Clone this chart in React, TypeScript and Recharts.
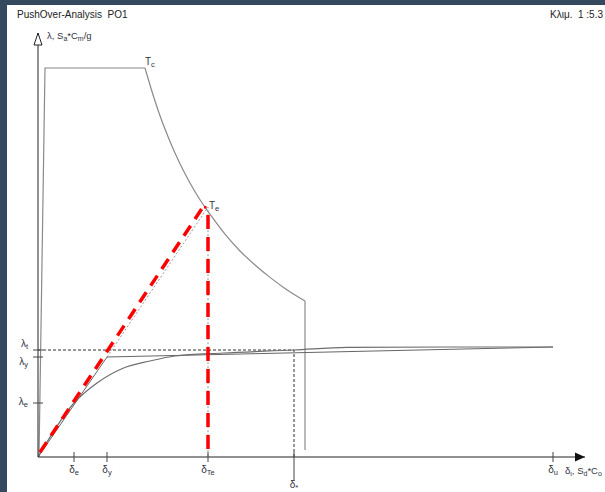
import React from 'react';
import { ComposedChart, Line, XAxis, YAxis, ReferenceDot } from 'recharts';

// Demand spectrum (ADRS): rising part + plateau
const spectrumPlateau = [{ x: 0.01, y: 0 }, { x: 0.07, y: 0.9725 }, { x: 1.07, y: 0.9725 }];
// descending branch
const spectrumDecay = [
  { x: 1.07, y: 0.9725 }, { x: 1.12, y: 0.93 }, { x: 1.17, y: 0.89 },
  { x: 1.22, y: 0.853 }, { x: 1.32, y: 0.789 }, { x: 1.42, y: 0.733 },
  { x: 1.52, y: 0.685 }, { x: 1.62, y: 0.643 }, { x: 1.72, y: 0.607 },
  { x: 1.87, y: 0.557 }, { x: 2.02, y: 0.515 }, { x: 2.17, y: 0.48 },
  { x: 2.32, y: 0.449 }, { x: 2.47, y: 0.4215 }, { x: 2.67, y: 0.39 },
];
// vertical cut-off
const spectrumDrop = [{ x: 2.67, y: 0.39 }, { x: 2.67, y: 0.0175 }];
// Pushover capacity curve
const capacity = [
  { x: 0, y: 0 }, { x: 0.36, y: 0.135 }, { x: 0.59, y: 0.185 },
  { x: 0.85, y: 0.222 }, { x: 1.12, y: 0.24 }, { x: 1.37, y: 0.2525 },
  { x: 1.85, y: 0.26 }, { x: 2.56, y: 0.2675 }, { x: 3.09, y: 0.274 },
  { x: 4.12, y: 0.275 }, { x: 5.15, y: 0.275 },
];
// Bilinear idealisation
const bilinear = [{ x: 0, y: 0 }, { x: 0.69, y: 0.25 }, { x: 5.15, y: 0.275 }];
// Elastic extension to the spectrum (dotted grey)
const elasticExt = [{ x: 0.69, y: 0.25 }, { x: 1.70, y: 0.625 }, { x: 1.70, y: 0 }];
// Target displacement construction (black dashed)
const targetLine = [{ x: 0, y: 0.2675 }, { x: 2.56, y: 0.2675 }, { x: 2.56, y: 0 }];
// Red dashed construction
const redDiag = [{ x: 0.02, y: 0.012 }, { x: 1.65, y: 0.625 }];
const redVert = [{ x: 1.70, y: 0.605 }, { x: 1.70, y: 0 }];

const xTicks = [0.36, 0.69, 1.70, 2.56, 5.15];
const xTickLabels = ['δe', 'δy', 'δTe', 'δ*', 'δu'];
const yTicks = [0.135, 0.25, 0.2675];
const yTickLabels = ['λe', 'λy', 'λt'];
const xMax = 5.47;
const yMax = 1.06;
const TcPoint = { x: 1.07, y: 0.9725 };
const TePoint = { x: 1.70, y: 0.625 };

const FONT = '"Liberation Sans", Arial, sans-serif';
const TXT = '#333344';

const Sub = ({ main, sub, x, y, anchor = 'start', size = 10 }: any) => (
  <text x={x} y={y} textAnchor={anchor} fontSize={size} fontFamily={FONT} fill={TXT}>
    {main}
    <tspan fontSize={size * 0.75} dy={1.5}>{sub}</tspan>
  </text>
);

const XTick = (props: any) => {
  const { x, y, index } = props;
  const isStar = index === 3;
  const lab = xTickLabels[index] || '';
  return (
    <g>
      <line x1={x} x2={x} y1={y - 5} y2={isStar ? y + 24 : y + 5} stroke="#444" strokeWidth={1} />
      <Sub main={lab[0]} sub={lab.slice(1)} x={x} y={isStar ? y + 31 : y + 16} anchor="middle" />
    </g>
  );
};

const YTick = (props: any) => {
  const { x, y, index } = props;
  const dys = [0, 6, -5];
  const lab = yTickLabels[index] || '';
  return (
    <g>
      <line x1={x - 5} x2={x + 5} y1={y} y2={y} stroke="#444" strokeWidth={1} />
      <Sub main={lab[0]} sub={lab.slice(1)} x={x - 10} y={y + dys[index] + 2} anchor="end" />
    </g>
  );
};

const XArrow = (p: any) => (
  <g>
    <polygon points={`${p.cx},${p.cy} ${p.cx - 10},${p.cy - 4.5} ${p.cx - 10},${p.cy + 4.5}`} fill="#111" />
    <text x={p.cx - 20} y={p.cy + 17} fontSize={9.5} fontFamily={FONT} fill={TXT}>
      δ<tspan fontSize={7} dy={1.5}>ι</tspan><tspan dy={-1.5}>, S</tspan><tspan fontSize={7} dy={1.5}>d</tspan><tspan dy={-1.5}>*C</tspan><tspan fontSize={7} dy={1.5}>o</tspan>
    </text>
  </g>
);

const YArrow = (p: any) => (
  <g>
    <polygon points={`${p.cx},${p.cy} ${p.cx - 4},${p.cy + 12} ${p.cx + 4},${p.cy + 12}`} fill="#fff" stroke="#222" strokeWidth={1} />
    <text x={p.cx + 9} y={p.cy + 6} fontSize={9.5} fontFamily={FONT} fill={TXT}>
      λ, S<tspan fontSize={7} dy={1.5}>a</tspan><tspan dy={-1.5}>*C</tspan><tspan fontSize={7} dy={1.5}>m</tspan><tspan dy={-1.5}>/g</tspan>
    </text>
  </g>
);

const TcLabel = (p: any) => <Sub main="T" sub="c" x={p.cx} y={p.cy - 3} />;
const TeLabel = (p: any) => (
  <g>
    <rect x={p.cx - 4} y={p.cy - 1} width={2.5} height={2.5} fill="#ff0000" />
    <Sub main="T" sub="e" x={p.cx + 1} y={p.cy + 2} />
  </g>
);

export default function App() {
  return (
    <div style={{ position: 'fixed', left: 0, top: 0, width: 605, height: 492, background: '#34495e', overflow: 'hidden' }}>
      <div style={{ position: 'absolute', left: 7, top: 5, right: 0, bottom: 0, background: '#ffffff' }} />
      <div style={{ position: 'absolute', left: 17, top: 9, fontSize: 10, fontFamily: FONT, color: '#222', whiteSpace: 'pre' }}>
        PushOver-Analysis  PO1
      </div>
      <div style={{ position: 'absolute', right: 2, top: 9, fontSize: 10, fontFamily: FONT, color: '#222', whiteSpace: 'pre' }}>
        Κλιμ.  1 :5.3
      </div>
      <div style={{ position: 'absolute', left: 0, top: 0 }}>
        <ComposedChart width={605} height={492} margin={{ top: 33, right: 20, bottom: 0, left: 0 }}>
          <XAxis
            type="number" dataKey="x" domain={[0, xMax]} allowDataOverflow
            ticks={xTicks} interval={0} tickSize={0} tickMargin={0} tickLine={false}
            tick={<XTick />} axisLine={{ stroke: '#222', strokeWidth: 1 }} height={35}
          />
          <YAxis
            type="number" dataKey="y" domain={[0, yMax]} allowDataOverflow
            ticks={yTicks} interval={0} tickSize={0} tickMargin={0} tickLine={false}
            tick={<YTick />} axisLine={{ stroke: '#222', strokeWidth: 1 }} width={38}
          />
          <Line data={targetLine} dataKey="y" stroke="#333" strokeWidth={1} strokeDasharray="3 2" dot={false} isAnimationActive={false} />
          <Line data={elasticExt} dataKey="y" stroke="#999" strokeWidth={1} strokeDasharray="2 2" dot={false} isAnimationActive={false} />
          <Line data={spectrumPlateau} dataKey="y" stroke="#8a8a8a" strokeWidth={1.2} dot={false} isAnimationActive={false} />
          <Line data={spectrumDecay} dataKey="y" type="monotoneX" stroke="#8a8a8a" strokeWidth={1.2} dot={false} isAnimationActive={false} />
          <Line data={spectrumDrop} dataKey="y" stroke="#8a8a8a" strokeWidth={1.2} dot={false} isAnimationActive={false} />
          <Line data={bilinear} dataKey="y" stroke="#666" strokeWidth={1} dot={false} isAnimationActive={false} />
          <Line data={capacity} dataKey="y" type="monotoneX" stroke="#6e6e6e" strokeWidth={1.2} dot={false} isAnimationActive={false} />
          <Line data={redDiag} dataKey="y" stroke="#ff0000" strokeWidth={3.5} strokeDasharray="12 8" dot={false} isAnimationActive={false} />
          <Line data={redVert} dataKey="y" stroke="#ff0000" strokeWidth={3.5} strokeDasharray="14 8" dot={false} isAnimationActive={false} />
          <ReferenceDot x={xMax} y={0} r={0} ifOverflow="visible" shape={XArrow} />
          <ReferenceDot x={0} y={yMax} r={0} ifOverflow="visible" shape={YArrow} />
          <ReferenceDot x={TcPoint.x} y={TcPoint.y} r={0} ifOverflow="visible" shape={TcLabel} />
          <ReferenceDot x={TePoint.x} y={TePoint.y} r={0} ifOverflow="visible" shape={TeLabel} />
        </ComposedChart>
      </div>
    </div>
  );
}
